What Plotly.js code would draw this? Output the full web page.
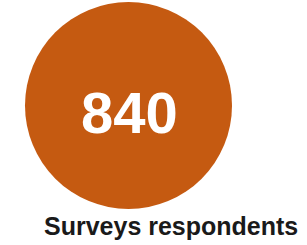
<!DOCTYPE html>
<html>
<head>
<meta charset="utf-8">
<script src="https://cdn.plot.ly/plotly-3.0.1.min.js"></script>
<style>html,body{margin:0;padding:0;background:#fff;overflow:hidden}#chart{width:307px;height:245px}</style>
</head>
<body>
<div id="chart"></div>
<script>
var values = [840];
var labels = ["Surveys respondents"];
var positionsX = [0];
var positionsY = [0];

var trace = {
  type: 'scatter',
  mode: 'markers',
  x: positionsX,
  y: positionsY,
  marker: {size: 207, color: '#C55A11', line: {width: 0}},
  hoverinfo: 'skip',
  cliponaxis: false
};

var layout = {
  width: 307, height: 245,
  margin: {l: 0, r: 0, t: 0, b: 0},
  paper_bgcolor: '#ffffff', plot_bgcolor: '#ffffff',
  showlegend: false,
  xaxis: {range: [-128.5, 178.5], visible: false, fixedrange: true},
  yaxis: {range: [-139.5, 105.5], visible: false, fixedrange: true},
  annotations: [{
    text: '<b>' + String(values[0]) + '</b>',
    xref: 'x', yref: 'y', x: positionsX[0], y: positionsY[0],
    xanchor: 'center', yanchor: 'middle', showarrow: false,
    xshift: 1, yshift: -7,
    font: {family: 'Liberation Sans, Arial, sans-serif', size: 58, color: '#ffffff'}
  }, {
    text: '<b>' + labels[0] + '</b>',
    xref: 'paper', yref: 'paper', x: 42 / 307, y: 1 - 226 / 245,
    xanchor: 'left', yanchor: 'middle', showarrow: false,
    font: {family: 'Liberation Sans, Arial, sans-serif', size: 25, color: '#1a1a1a'}
  }]
};

Plotly.newPlot('chart', [trace], layout, {staticPlot: true, displayModeBar: false});
</script>
</body>
</html>
